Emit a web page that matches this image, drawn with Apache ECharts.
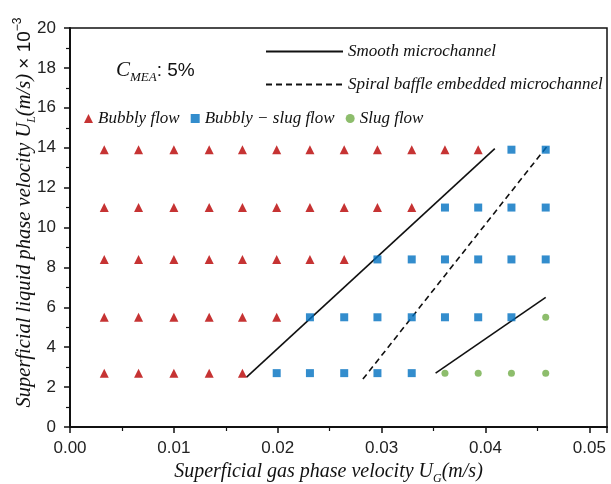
<!DOCTYPE html>
<html>
<head>
<meta charset="utf-8">
<script src="https://cdn.jsdelivr.net/npm/echarts@6/dist/echarts.min.js"></script>
<style>
html,body{margin:0;padding:0;background:#fff;}
#chart{width:611px;height:484px;}
</style>
</head>
<body>
<div id="chart"></div>
<script>
// ---- data ----
const ugValues = [0.0033, 0.0066, 0.0100, 0.0134, 0.0166, 0.0199, 0.0231, 0.0264, 0.0296, 0.0329, 0.0361, 0.0393, 0.0425, 0.0458];
const ulValues = [2.7, 5.5, 8.4, 11.0, 13.9];
// regime per (row, column): B = bubbly, S = bubbly-slug, G = slug
const rowRegimes = [
  'BBBBBSSSSSGGGG', // UL = 2.7
  'BBBBBBSSSSSSSG', // UL = 5.5
  'BBBBBBBBSSSSSS', // UL = 8.4
  'BBBBBBBBBBSSSS', // UL = 11.0
  'BBBBBBBBBBBBSS'  // UL = 13.9
];
const smoothLineA = [[0.0170, 2.5], [0.0409, 13.95]];
const smoothLineB = [[0.0352, 2.7], [0.0458, 6.5]];
const spiralLine = [[0.0282, 2.4], [0.0459, 14.05]];
const xTicks = [0, 0.01, 0.02, 0.03, 0.04, 0.05];
const yTicks = [0, 2, 4, 6, 8, 10, 12, 14, 16, 18, 20];
const seriesNames = ['Bubbly flow', 'Bubbly \u2212 slug flow', 'Slug flow'];
const lineNames = ['Smooth microchannel', 'Spiral baffle embedded microchannel'];

// ---- build series data from arrays ----
const pts = {B: [], S: [], G: []};
rowRegimes.forEach((row, r) => {
  row.split('').forEach((c, i) => { pts[c].push([ugValues[i], ulValues[r]]); });
});

const serif = 'Liberation Serif';
const sans = 'Liberation Sans';
const chart = echarts.init(document.getElementById('chart'), null, {renderer: 'canvas'});

const lineBase = {type: 'line', symbol: 'none', silent: true, z: 3};

chart.setOption({
  animation: false,
  backgroundColor: '#fff',
  grid: {left: 70, top: 28, right: 4, bottom: 57, show: true, borderColor: '#111', borderWidth: 1.5, containLabel: false, outerBoundsMode: 'none'},
  xAxis: {
    type: 'value', min: 0, max: 0.0517, interval: 0.01,
    axisLine: {show: true, onZero: false, lineStyle: {color: '#111', width: 2}},
    axisTick: {show: true, length: 6, lineStyle: {color: '#111', width: 1.5}},
    minorTick: {show: true, splitNumber: 2, length: 4, lineStyle: {color: '#111', width: 1.2}},
    splitLine: {show: false},
    axisLabel: {
      margin: 13, fontFamily: sans, fontSize: 17, color: '#222',
      formatter: v => xTicks.some(t => Math.abs(t - v) < 1e-9) ? v.toFixed(2) : ''
    },
    name: '{t|Superficial gas phase velocity }{t|U}{s|G}{t|(m/s)}',
    nameLocation: 'middle', nameGap: 27,
    nameTextStyle: {
      padding: [0, 20, 0, 0],
      rich: {
        t: {fontFamily: serif, fontStyle: 'italic', fontSize: 20, color: '#111', lineHeight: 26, verticalAlign: 'middle'},
        s: {fontFamily: serif, fontStyle: 'italic', fontSize: 12, color: '#111', lineHeight: 10, verticalAlign: 'bottom'}
      }
    }
  },
  yAxis: {
    type: 'value', min: 0, max: 20, interval: 2,
    axisLine: {show: true, onZero: false, lineStyle: {color: '#111', width: 2}},
    axisTick: {show: true, length: 6, lineStyle: {color: '#111', width: 1.5}},
    minorTick: {show: true, splitNumber: 2, length: 4, lineStyle: {color: '#111', width: 1.2}},
    splitLine: {show: false},
    axisLabel: {
      margin: 14, fontFamily: sans, fontSize: 17, color: '#222',
      formatter: v => yTicks.indexOf(v) >= 0 ? String(v) : ''
    },
    name: '{t|Superficial liquid phase velocity }{t|U}{s|L}{t|(m/s)}{n| \u00d7 10}{p|\u22123}',
    nameLocation: 'middle', nameGap: 32, nameRotate: 90, nameMoveOverlap: false,
    nameTextStyle: {
      padding: [0, 0, 0, 30],
      rich: {
        t: {fontFamily: serif, fontStyle: 'italic', fontSize: 20.5, color: '#111', lineHeight: 26, verticalAlign: 'middle'},
        s: {fontFamily: serif, fontStyle: 'italic', fontSize: 12, color: '#111', lineHeight: 10, verticalAlign: 'bottom'},
        n: {fontFamily: sans, fontSize: 19, color: '#111', lineHeight: 26, verticalAlign: 'middle'},
        p: {fontFamily: sans, fontSize: 12, color: '#111', lineHeight: 10, verticalAlign: 'top'}
      }
    }
  },
  legend: [
    {
      data: lineNames, orient: 'vertical', left: 260, top: 38, itemWidth: 77, itemHeight: 16, itemGap: 16,
      itemStyle: {opacity: 0},
      textStyle: {fontFamily: serif, fontStyle: 'italic', fontSize: 17, color: '#111'},
      selectedMode: false
    },
    {
      data: seriesNames, orient: 'horizontal', left: 79, top: 105, itemWidth: 9, itemHeight: 9, itemGap: 11,
      textStyle: {fontFamily: serif, fontStyle: 'italic', fontSize: 17, color: '#111'},
      selectedMode: false
    }
  ],
  graphic: [
    {
      type: 'text', left: 116, top: 60,
      style: {
        text: '{c|C}{s|MEA}{n|: 5%}',
        rich: {
          c: {fontFamily: serif, fontStyle: 'italic', fontSize: 21, fill: '#111', lineHeight: 28, verticalAlign: 'middle'},
          s: {fontFamily: serif, fontStyle: 'italic', fontSize: 13, fill: '#111', lineHeight: 12, verticalAlign: 'bottom'},
          n: {fontFamily: sans, fontSize: 19, fill: '#111', lineHeight: 28, verticalAlign: 'middle'}
        }
      }
    }
  ],
  series: [
    Object.assign({}, lineBase, {name: lineNames[0], data: smoothLineA, lineStyle: {color: '#111', width: 1.6, type: 'solid'}, itemStyle: {color: '#111'}}),
    Object.assign({}, lineBase, {name: lineNames[0], data: smoothLineB, lineStyle: {color: '#111', width: 1.6, type: 'solid'}, itemStyle: {color: '#111'}}),
    Object.assign({}, lineBase, {name: lineNames[1], data: spiralLine, lineStyle: {color: '#111', width: 1.6, type: [6, 4]}, itemStyle: {color: '#111'}}),
    {name: seriesNames[0], type: 'scatter', symbol: 'triangle', symbolSize: 9, itemStyle: {color: '#B80000'}, data: pts.B, z: 4},
    {name: seriesNames[1], type: 'scatter', symbol: 'rect', symbolSize: 8, itemStyle: {color: '#0070C0'}, data: pts.S, z: 4},
    {name: seriesNames[2], type: 'scatter', symbol: 'circle', symbolSize: 7, itemStyle: {color: '#70AD47'}, data: pts.G, z: 4}
  ]
});
</script>
</body>
</html>
